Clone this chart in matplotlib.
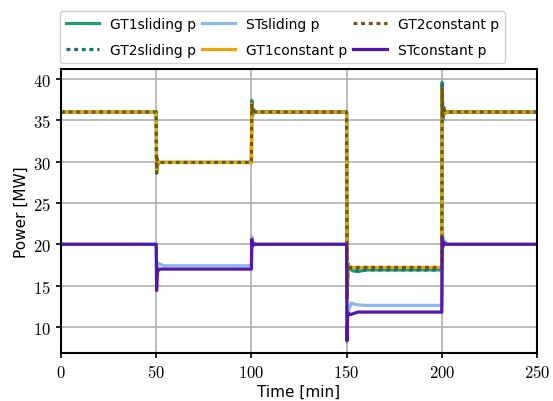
import matplotlib
matplotlib.use("Agg")
import matplotlib.pyplot as plt
from matplotlib.ticker import FuncFormatter

plt.rcParams["mathtext.fontset"] = "cm"
plt.rcParams["font.family"] = ["DejaVu Sans"]

# Breakpoints (time [min], power [MW])
gt1_sliding_t = [0, 50, 50.2, 50.5, 51, 52, 100, 100.2, 100.6, 101.2, 102, 150, 150.3, 150.7, 151.5, 153, 156, 160, 200, 200.2, 200.5, 201, 201.5, 202.5, 250]
gt1_sliding_p = [36, 36, 28.6, 30.3, 29.7, 29.9, 29.9, 37.4, 35.6, 36.3, 36.0, 36.0, 13.6, 17.7, 17.2, 16.8, 16.7, 16.9, 16.9, 39.6, 35.0, 36.6, 35.8, 36.0, 36]
gt2_sliding_t = gt1_sliding_t
gt2_sliding_p = [36, 36, 28.8, 30.2, 29.8, 29.9, 29.9, 37.2, 35.7, 36.2, 36.0, 36.0, 13.8, 17.6, 17.2, 16.9, 16.8, 16.9, 16.9, 39.3, 35.2, 36.5, 35.9, 36.0, 36]
st_sliding_t = [0, 50, 50.3, 50.8, 52, 54, 100, 100.3, 100.8, 101.5, 103, 150, 150.3, 151, 152.5, 155, 160, 200, 200.3, 200.8, 201.5, 203, 250]
st_sliding_p = [20, 20, 16.0, 17.7, 17.6, 17.4, 17.4, 20.9, 19.8, 20.2, 20.0, 20.0, 10.8, 12.0, 12.9, 12.7, 12.6, 12.6, 22.5, 19.7, 20.4, 20.0, 20]
gt1_constant_t = [0, 50, 50.2, 50.5, 51, 100, 100.2, 100.6, 101.2, 150, 150.3, 150.7, 151.5, 200, 200.2, 200.5, 201, 202, 250]
gt1_constant_p = [36, 36, 28.6, 30.3, 29.9, 29.9, 37.0, 35.8, 36.0, 36.0, 13.5, 17.5, 17.2, 17.2, 38.8, 35.4, 36.3, 36.0, 36]
gt2_constant_t = gt1_constant_t
gt2_constant_p = gt1_constant_p
st_constant_t = [0, 50, 50.2, 50.6, 51.5, 100, 100.2, 100.6, 101.2, 150, 150.2, 150.6, 152, 156, 200, 200.2, 200.6, 201.2, 202, 250]
st_constant_p = [20, 20, 14.4, 16.6, 17.0, 17.0, 20.6, 19.8, 20.0, 20.0, 8.3, 11.7, 11.5, 11.8, 11.8, 20.8, 19.8, 20.2, 20.0, 20]

dotted = (0, (1.2, 1.2))
series = [
    ("GT1sliding p", gt1_sliding_t, gt1_sliding_p, "#1b9e77", "-"),
    ("GT2sliding p", gt2_sliding_t, gt2_sliding_p, "#1f6e78", dotted),
    ("STsliding p", st_sliding_t, st_sliding_p, "#8cb6ee", "-"),
    ("GT1constant p", gt1_constant_t, gt1_constant_p, "#e6a800", "-"),
    ("GT2constant p", gt2_constant_t, gt2_constant_p, "#6e5510", dotted),
    ("STconstant p", st_constant_t, st_constant_p, "#5318a8", "-"),
]

x_ticks = [0, 50, 100, 150, 200, 250]
y_ticks = [10, 15, 20, 25, 30, 35, 40]

fig = plt.figure(figsize=(5.53, 4.02), dpi=100)
ax = fig.add_axes([61 / 553, 48 / 402, 476 / 553, 284 / 402])

for label, t, p, color, ls in series:
    ax.plot(t, p, color=color, linestyle=ls, linewidth=2.3, label=label,
            dash_capstyle="butt")

ax.set_xlim(0, 250)
ax.set_ylim(6.85, 41.2)
ax.set_xticks(x_ticks)
ax.set_yticks(y_ticks)
fmt = FuncFormatter(lambda v, pos: f"${v:g}$")
ax.xaxis.set_major_formatter(fmt)
ax.yaxis.set_major_formatter(fmt)
ax.tick_params(labelsize=12, length=3.5, width=1.2)
ax.grid(True, color="#b0b0b0", linewidth=1.2)
ax.set_axisbelow(True)
for s in ax.spines.values():
    s.set_linewidth(1.5)

ax.set_xlabel("Time [min]", fontsize=11, labelpad=2)
ax.set_ylabel("Power [MW]", fontsize=11, labelpad=3)

ax.legend(ncol=3, loc="lower center", bbox_to_anchor=(0.465, 1.005), fontsize=10,
          handlelength=2.4, columnspacing=0.4, handletextpad=0.8, labelspacing=0.85,
          borderpad=0.45, framealpha=1, edgecolor="#d0d0d0", borderaxespad=0.3)

fig.savefig("out.png", dpi=100)
